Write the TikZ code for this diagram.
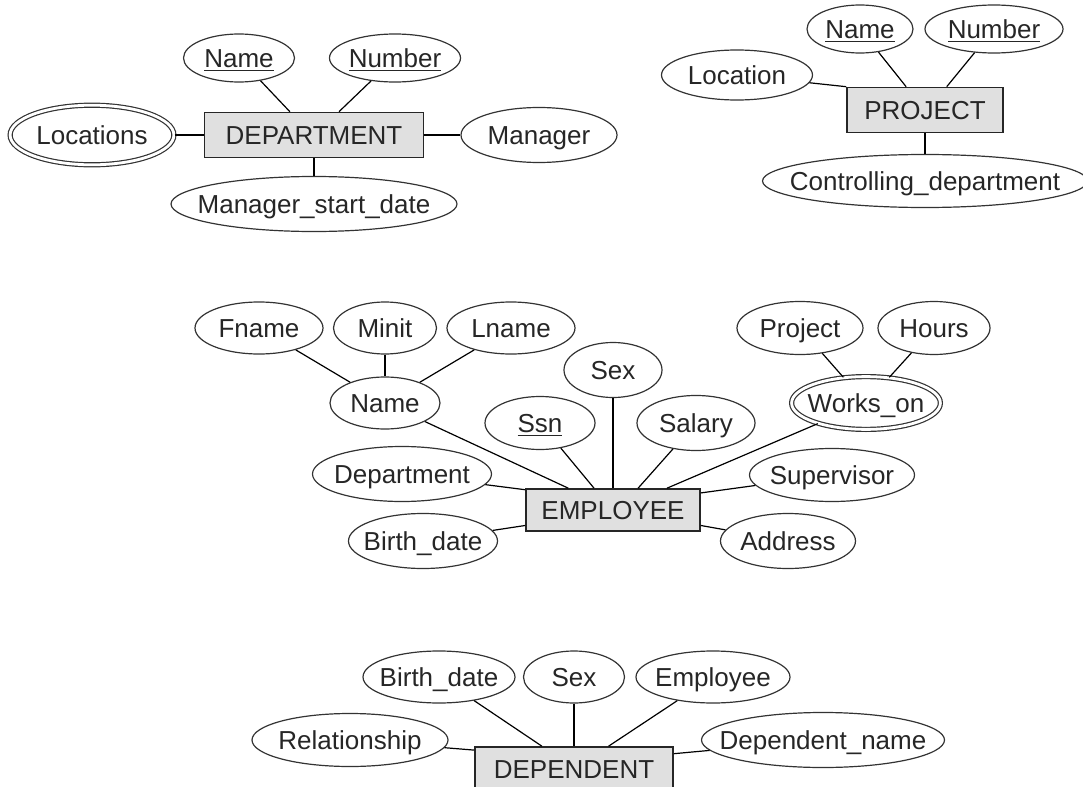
\documentclass[tikz,border=0pt]{standalone}
\usepackage{fontspec}
\setmainfont{Liberation Sans}
\usetikzlibrary{shapes.geometric}
\tikzset{
  attr/.style={ellipse, draw=black!80, line width=0.6pt, inner sep=0pt},
  multi/.style={attr, double, double distance=1.4pt},
  entity/.style={rectangle, draw=black!85, fill=black!12, line width=0.8pt, inner sep=0pt, text height=9.3pt, text depth=0pt},
  every label/.style={inner sep=0pt, text height=9.3pt, text depth=0pt}
}
\begin{document}
\begin{tikzpicture}[x=0.5pt, y=-0.5pt, font=\fontsize{13}{15}\selectfont, text=black!85, line width=0.6pt]
                \clip (0,0) rectangle (1083,787);
                \node[entity, minimum width=109.5pt, minimum height=22.5pt] (dept) at (314,135) {DEPARTMENT};
                \node[attr, minimum width=55.5pt, minimum height=24pt, label=center:{\underline{Name}}] (dname) at (239,58) {};
                \node[attr, minimum width=65.5pt, minimum height=24pt, label=center:{\underline{Number}}] (dnumber) at (395,58) {};
                \node[multi, minimum width=81.9pt, minimum height=29.8pt, label=center:Locations] (dlocs) at (92,135) {};
                \node[attr, minimum width=78pt, minimum height=27.5pt, label=center:Manager] (dmgr) at (539,135) {};
                \node[attr, minimum width=143pt, minimum height=27.5pt, label=center:{Manager\_start\_date}] (dmsd) at (314,204) {};
                \draw (dname)--(dept.136);
                \draw (dnumber)--(dept.43);
                \draw (dlocs)--(dept);
                \draw (dept)--(dmgr);
                \draw (dept)--(dmsd);
                \node[entity, minimum width=78pt, minimum height=22.5pt] (proj) at (925,110) {PROJECT};
                \node[attr, minimum width=53pt, minimum height=24pt, label=center:{\underline{Name}}] (pname) at (860,29) {};
                \node[attr, minimum width=69pt, minimum height=24pt, label=center:{\underline{Number}}] (pnumber) at (994,29) {};
                \node[attr, minimum width=75.5pt, minimum height=25pt, label=center:Location] (ploc) at (737,75) {};
                \node[attr, minimum width=162.5pt, minimum height=26.5pt, label=center:{Controlling\_department}] (pctrl) at (925,181) {};
                \draw (ploc)--(proj.north west);
                \draw (pname)--(proj.129);
                \draw (pnumber)--(proj.47);
                \draw (proj)--(pctrl);
                \node[entity, minimum width=87pt, minimum height=21pt] (emp) at (613,510) {EMPLOYEE};
                \node[attr, minimum width=64pt, minimum height=26pt, label=center:Fname] (fname) at (259,328) {};
                \node[attr, minimum width=51.5pt, minimum height=26pt, label=center:Minit] (minit) at (385,328) {};
                \node[attr, minimum width=64pt, minimum height=26pt, label=center:Lname] (lname) at (511,328) {};
                \node[attr, minimum width=55pt, minimum height=26pt, label=center:Name] (ename) at (385,403) {};
                \node[attr, minimum width=49pt, minimum height=27.5pt, label=center:Sex] (esex) at (613,370) {};
                \node[attr, minimum width=55pt, minimum height=26.5pt, label=center:{\underline{Ssn}}] (essn) at (540,423) {};
                \node[attr, minimum width=59pt, minimum height=27.5pt, label=center:Salary] (esalary) at (696,423) {};
                \node[multi, minimum width=74.4pt, minimum height=26.4pt, label=center:{Works\_on}] (eworks) at (866,403) {};
                \node[attr, minimum width=63pt, minimum height=26.5pt, label=center:Project] (eproject) at (800,328) {};
                \node[attr, minimum width=56pt, minimum height=26.5pt, label=center:Hours] (ehours) at (934,328) {};
                \node[attr, minimum width=89.5pt, minimum height=27.5pt, label=center:Department] (edept) at (402,474) {};
                \node[attr, minimum width=82.5pt, minimum height=26.5pt, label=center:Supervisor] (esuper) at (832,475) {};
                \node[attr, minimum width=74.5pt, minimum height=27.5pt, label=center:{Birth\_date}] (ebdate) at (423,541) {};
                \node[attr, minimum width=67.5pt, minimum height=27.5pt, label=center:Address] (eaddr) at (788,541) {};
                \draw (fname)--(ename);
                \draw (minit)--(ename);
                \draw (lname)--(ename);
                \draw (eproject)--(eworks);
                \draw (ehours)--(eworks);
                \draw (ename)--(emp.154);
                \draw (essn)--(emp.131);
                \draw (esex)--(emp);
                \draw (esalary)--(emp.41);
                \draw (eworks)--(emp.22);
                \draw (edept)--(emp.167);
                \draw (esuper)--(emp.11);
                \draw (ebdate)--(emp.190);
                \draw (eaddr)--(emp.350);
                \node[entity, minimum width=99pt, minimum height=22.5pt] (dep) at (574,769.5) {DEPENDENT};
                \node[attr, minimum width=76pt, minimum height=26pt, label=center:{Birth\_date}] (dbdate) at (439,677) {};
                \node[attr, minimum width=50.5pt, minimum height=26pt, label=center:Sex] (dsex) at (574,677) {};
                \node[attr, minimum width=77pt, minimum height=26pt, label=center:Employee] (demp) at (713,677) {};
                \node[attr, minimum width=98pt, minimum height=26.5pt, label=center:Relationship] (drel) at (350,740) {};
                \node[attr, minimum width=121.5pt, minimum height=27.5pt, label=center:{Dependent\_name}] (dname2) at (823,740) {};
                \draw (dbdate)--(dep.144);
                \draw (dsex)--(dep);
                \draw (demp)--(dep.34);
                \draw (drel)--(dep.169);
                \draw (dname2)--(dep.9);
\end{tikzpicture}
\end{document}
